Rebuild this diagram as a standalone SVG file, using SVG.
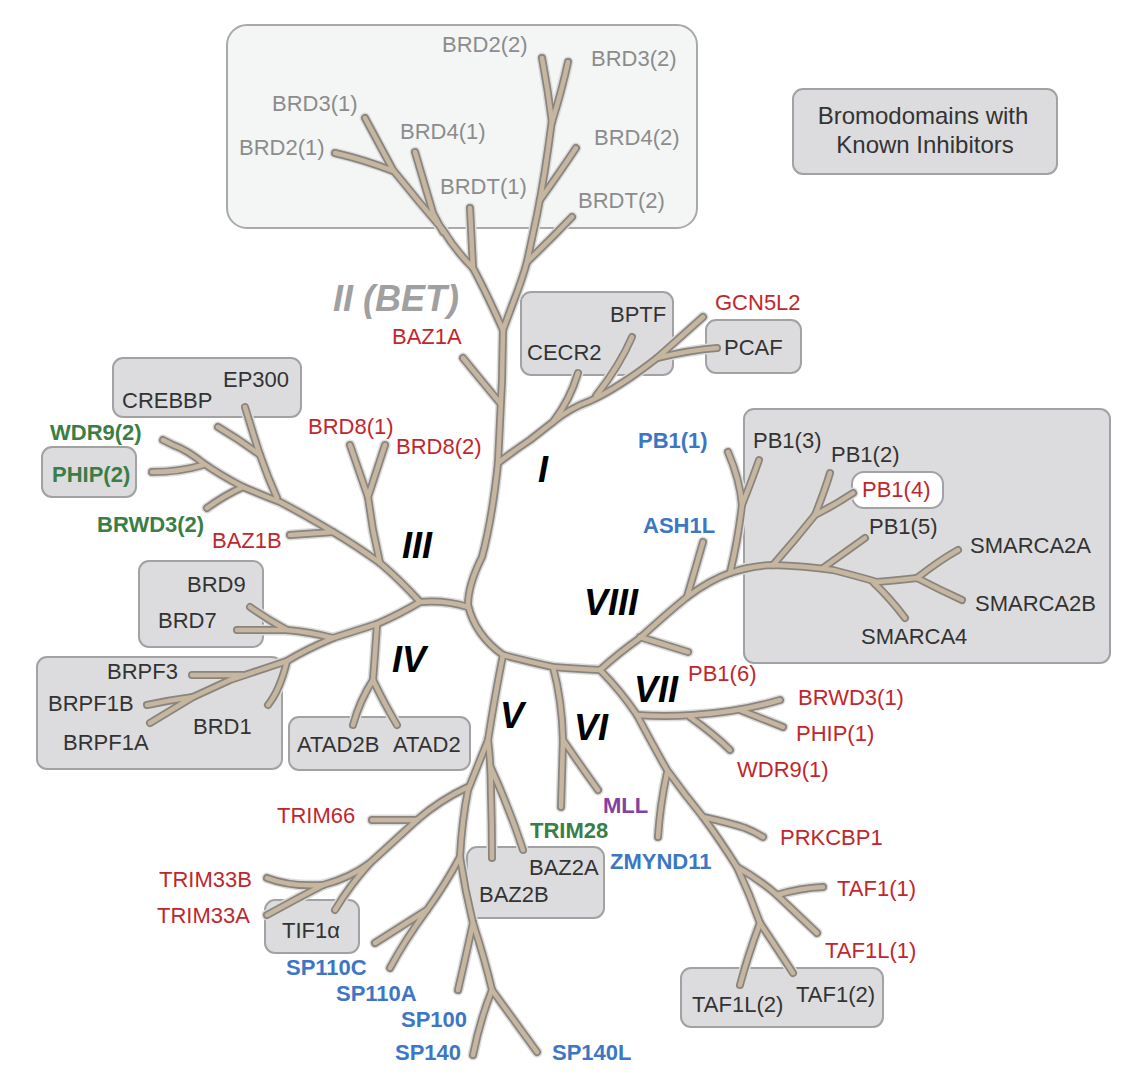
<svg xmlns="http://www.w3.org/2000/svg" width="1144" height="1090" viewBox="0 0 1144 1090">
<style>
text{font-family:"Liberation Sans",Arial,Helvetica,sans-serif;font-size:22px}
.box{fill:#dcdcde;stroke:#a2a2a4;stroke-width:2}
.bet{fill:#f4f6f6;stroke:#a9a9a9;stroke-width:2}
.g{fill:#8c8c8c}
.k{fill:#333}
.r{fill:#c0272d}
.gr{fill:#3b7d46;font-weight:bold}
.b{fill:#3d76c4;font-weight:bold}
.p{fill:#8341a0;font-weight:bold}
.rn{font-size:36px;font-weight:bold;font-style:italic;fill:#000}
.lg{font-size:24px;fill:#333}
</style>
<defs>
<g id="tree" fill="none" stroke-linecap="round" stroke-linejoin="round">
<!-- BET -->
<path d="M503,330 L513,303 Q522,280 527,262 L537,215 Q545,175 552,120"/>
<path d="M552,122 Q548,90 542,58"/>
<path d="M552,122 Q562,90 568,62"/>
<path d="M540,200 Q560,172 576,148"/>
<path d="M527,262 Q550,240 572,217"/>
<path d="M503,330 Q485,290 473,268 Q455,250 443,230 L420,203 L393,170 L365,118"/>
<path d="M335,153 Q365,160 393,171"/>
<path d="M415,152 L433,213 L443,232"/>
<path d="M470,208 L473,268"/>
<!-- trunk -->
<path d="M503,330 L502,380 L498,463 Q492,520 482,557 Q468,585 468,605 Q475,635 503,655"/>
<path d="M463,358 Q485,385 500,403"/>
<!-- I -->
<path d="M498,463 Q515,450 530,440 L553,422 Q570,408 590,401 Q620,387 657,358 L703,317"/>
<path d="M657,358 Q690,350 717,348"/>
<path d="M578,373 Q570,400 553,422"/>
<path d="M632,337 Q620,365 596,396"/>
<!-- III -->
<path d="M468,607 Q445,600 420,602 Q400,580 380,563 Q355,545 333,532 Q305,515 280,502 Q262,495 243,487 Q220,475 203,463 Q187,450 173,445 L163,440"/>
<path d="M152,472 Q180,472 203,465"/>
<path d="M207,508 Q225,495 243,487"/>
<path d="M245,407 Q255,440 260,455 Q268,478 277,498"/>
<path d="M218,427 Q240,440 260,455"/>
<path d="M290,535 L333,532"/>
<path d="M350,445 L368,497 L373,530 L380,563"/>
<path d="M385,445 L368,497"/>
<!-- IV -->
<path d="M420,602 Q400,614 377,624 L333,638 Q305,650 287,661 L230,680 L193,697 L150,723"/>
<path d="M250,607 Q268,620 287,630"/>
<path d="M237,630 L287,630 Q310,632 333,638"/>
<path d="M377,624 Q375,655 373,680"/>
<path d="M373,680 Q360,700 353,725"/>
<path d="M373,680 Q385,705 397,725"/>
<path d="M287,661 Q280,690 268,705"/>
<path d="M192,675 L243,675"/>
<path d="M147,705 Q170,700 193,697"/>
<!-- center -->
<path d="M503,655 Q530,662 553,667 Q580,669 600,670"/>
<!-- V -->
<path d="M503,655 Q495,695 488,740"/>
<path d="M488,740 Q478,765 468,790 Q462,820 460,857 Q465,890 473,923 Q485,960 492,990 L537,1052"/>
<path d="M492,990 Q480,1020 473,1055"/>
<path d="M468,787 Q440,800 417,820 Q395,840 370,863 Q350,878 323,885 Q300,897 267,915"/>
<path d="M372,820 L417,820"/>
<path d="M267,878 Q290,887 323,885"/>
<path d="M370,863 Q350,885 335,910"/>
<path d="M460,857 Q445,885 427,910 L375,943"/>
<path d="M427,910 Q405,940 390,968"/>
<path d="M473,923 Q465,960 458,990"/>
<path d="M488,740 Q491,765 491,793 Q492,825 492,858"/>
<path d="M491,768 Q510,810 523,850"/>
<!-- VI -->
<path d="M553,667 Q562,700 563,740 L561,807"/>
<path d="M563,740 Q580,765 598,790"/>
<!-- VIII -->
<path d="M600,670 Q620,652 640,638 Q665,615 687,597 Q710,580 730,573 Q750,566 773,565 Q805,566 833,570 Q860,577 877,582 Q900,580 917,578"/>
<path d="M917,578 Q940,560 958,550"/>
<path d="M917,578 Q940,590 962,600"/>
<path d="M873,582 Q890,598 905,618"/>
<path d="M823,568 L865,538"/>
<path d="M773,565 Q795,540 815,515 Q825,490 830,473"/>
<path d="M815,515 Q835,505 853,493"/>
<path d="M730,573 Q738,540 742,505 Q740,480 728,452"/>
<path d="M742,505 Q752,480 759,460"/>
<path d="M687,597 Q695,570 703,542"/>
<path d="M640,637 L688,652"/>
<!-- VII -->
<path d="M600,670 Q620,690 637,715 Q650,740 667,770 Q685,795 703,817 Q720,840 737,867 Q750,895 760,923"/>
<path d="M637,715 Q665,717 693,715 Q740,712 780,700"/>
<path d="M740,710 Q760,718 783,727"/>
<path d="M690,717 Q715,735 730,750"/>
<path d="M667,773 Q660,805 658,837"/>
<path d="M703,817 Q730,823 745,828 Q755,832 763,837"/>
<path d="M737,867 Q760,880 777,895 L817,933"/>
<path d="M777,895 Q800,888 823,887"/>
<path d="M760,923 Q748,955 740,985"/>
<path d="M760,923 Q778,950 793,973"/>
</g>
</defs>

<g id="boxes">
<rect id="box-bet" class="bet" x="227" y="25" width="470" height="203" rx="20"/>
<rect id="box-bptf" class="box" x="521" y="292" width="152" height="83" rx="10"/>
<rect id="box-pcaf" class="box" x="706" y="320" width="95" height="53" rx="10"/>
<rect id="box-crebbp" class="box" x="113" y="358" width="188" height="59" rx="10"/>
<rect id="box-phip2" class="box" x="42" y="447" width="94" height="50" rx="10"/>
<rect id="box-brd9" class="box" x="139" y="561" width="124" height="86" rx="10"/>
<rect id="box-brpf" class="box" x="37" y="657" width="245" height="112" rx="10"/>
<rect id="box-atad2" class="box" x="289" y="717" width="181" height="53" rx="10"/>
<rect id="box-viii" class="box" x="744" y="409" width="366" height="254" rx="10"/>
<rect id="box-pb14" x="852" y="472" width="91" height="36" rx="12" fill="#fff" stroke="#a2a2a4" stroke-width="2"/>
<rect id="box-taf" class="box" x="681" y="968" width="202" height="59" rx="10"/>
<rect id="box-baz2" class="box" x="467" y="847" width="137" height="71" rx="10"/>
<rect id="box-tif1a" class="box" x="265" y="900" width="94" height="53" rx="10"/>
</g>

<g id="connectors">
<use href="#tree" stroke="#dcdcdc" stroke-width="11"/>
<use href="#tree" stroke="#8a847f" stroke-width="8"/>
<use href="#tree" stroke="#c6b69f" stroke-width="4.5"/>
</g>

<g id="legend">
<rect class="box" x="793" y="89" width="264" height="85" rx="10"/>
<text class="lg" x="923" y="124" text-anchor="middle">Bromodomains with</text>
<text class="lg" x="925" y="153" text-anchor="middle">Known Inhibitors</text>
</g>

<g id="clades">
<text id="clade-I" class="rn" x="538" y="482">I</text>
<text id="clade-II" class="rn" x="333" y="311" style="fill:#a0a0a0;font-size:36px">II (BET)</text>
<text id="clade-III" class="rn" x="402" y="558">III</text>
<text id="clade-IV" class="rn" x="392" y="672">IV</text>
<text id="clade-V" class="rn" x="500" y="728">V</text>
<text id="clade-VI" class="rn" x="574" y="740">VI</text>
<text id="clade-VII" class="rn" x="634" y="702">VII</text>
<text id="clade-VIII" class="rn" x="584" y="615">VIII</text>
</g>

<g id="labels">
<g id="n-BRD2-2"><text class="g" x="442" y="52">BRD2(2)</text></g>
<g id="n-BRD3-2"><text class="g" x="591" y="66">BRD3(2)</text></g>
<g id="n-BRD3-1"><text class="g" x="272" y="111">BRD3(1)</text></g>
<g id="n-BRD4-1"><text class="g" x="400" y="139">BRD4(1)</text></g>
<g id="n-BRD2-1"><text class="g" x="239" y="155">BRD2(1)</text></g>
<g id="n-BRD4-2"><text class="g" x="594" y="145">BRD4(2)</text></g>
<g id="n-BRDT-1"><text class="g" x="440" y="194">BRDT(1)</text></g>
<g id="n-BRDT-2"><text class="g" x="578" y="208">BRDT(2)</text></g>

<g id="n-BPTF"><text class="k" x="610" y="322">BPTF</text></g>
<g id="n-CECR2"><text class="k" x="527" y="360">CECR2</text></g>
<g id="n-PCAF"><text class="k" x="724" y="355">PCAF</text></g>
<g id="n-EP300"><text class="k" x="223" y="387">EP300</text></g>
<g id="n-CREBBP"><text class="k" x="122" y="408">CREBBP</text></g>
<g id="n-BRD9"><text class="k" x="187" y="592">BRD9</text></g>
<g id="n-BRD7"><text class="k" x="158" y="628">BRD7</text></g>
<g id="n-BRPF3"><text class="k" x="107" y="679">BRPF3</text></g>
<g id="n-BRPF1B"><text class="k" x="48" y="711">BRPF1B</text></g>
<g id="n-BRD1"><text class="k" x="193" y="734">BRD1</text></g>
<g id="n-BRPF1A"><text class="k" x="63" y="750">BRPF1A</text></g>
<g id="n-ATAD2B"><text class="k" x="297" y="752">ATAD2B</text></g>
<g id="n-ATAD2"><text class="k" x="393" y="752">ATAD2</text></g>
<g id="n-PB1-3"><text class="k" x="753" y="448">PB1(3)</text></g>
<g id="n-PB1-2"><text class="k" x="831" y="462">PB1(2)</text></g>
<g id="n-PB1-5"><text class="k" x="869" y="534">PB1(5)</text></g>
<g id="n-SMARCA2A"><text class="k" x="970" y="553">SMARCA2A</text></g>
<g id="n-SMARCA2B"><text class="k" x="975" y="611">SMARCA2B</text></g>
<g id="n-SMARCA4"><text class="k" x="861" y="644">SMARCA4</text></g>
<g id="n-TAF1L-2"><text class="k" x="692" y="1012">TAF1L(2)</text></g>
<g id="n-TAF1-2"><text class="k" x="796" y="1002">TAF1(2)</text></g>
<g id="n-BAZ2A"><text class="k" x="529" y="875">BAZ2A</text></g>
<g id="n-BAZ2B"><text class="k" x="479" y="902">BAZ2B</text></g>
<g id="n-TIF1a"><text class="k" x="282" y="938">TIF1α</text></g>

<g id="n-GCN5L2"><text class="r" x="715" y="310">GCN5L2</text></g>
<g id="n-BAZ1A"><text class="r" x="392" y="344">BAZ1A</text></g>
<g id="n-BRD8-1"><text class="r" x="308" y="434">BRD8(1)</text></g>
<g id="n-BRD8-2"><text class="r" x="396" y="454">BRD8(2)</text></g>
<g id="n-BAZ1B"><text class="r" x="212" y="548">BAZ1B</text></g>
<g id="n-PB1-4"><text class="r" x="862" y="497">PB1(4)</text></g>
<g id="n-PB1-6"><text class="r" x="688" y="681">PB1(6)</text></g>
<g id="n-BRWD3-1"><text class="r" x="798" y="705">BRWD3(1)</text></g>
<g id="n-PHIP-1"><text class="r" x="796" y="741">PHIP(1)</text></g>
<g id="n-WDR9-1"><text class="r" x="737" y="777">WDR9(1)</text></g>
<g id="n-PRKCBP1"><text class="r" x="780" y="845">PRKCBP1</text></g>
<g id="n-TAF1-1"><text class="r" x="837" y="896">TAF1(1)</text></g>
<g id="n-TAF1L-1"><text class="r" x="825" y="958">TAF1L(1)</text></g>
<g id="n-TRIM66"><text class="r" x="277" y="823">TRIM66</text></g>
<g id="n-TRIM33B"><text class="r" x="159" y="887">TRIM33B</text></g>
<g id="n-TRIM33A"><text class="r" x="157" y="923">TRIM33A</text></g>

<g id="n-WDR9-2"><text class="gr" x="50" y="440">WDR9(2)</text></g>
<g id="n-PHIP-2"><text class="gr" x="52" y="482">PHIP(2)</text></g>
<g id="n-BRWD3-2"><text class="gr" x="97" y="532">BRWD3(2)</text></g>
<g id="n-TRIM28"><text class="gr" x="530" y="838">TRIM28</text></g>

<g id="n-PB1-1"><text class="b" x="638" y="448">PB1(1)</text></g>
<g id="n-ASH1L"><text class="b" x="643" y="533">ASH1L</text></g>
<g id="n-ZMYND11"><text class="b" x="610" y="869">ZMYND11</text></g>
<g id="n-SP110C"><text class="b" x="286" y="975">SP110C</text></g>
<g id="n-SP110A"><text class="b" x="336" y="1001">SP110A</text></g>
<g id="n-SP100"><text class="b" x="401" y="1027">SP100</text></g>
<g id="n-SP140"><text class="b" x="395" y="1060">SP140</text></g>
<g id="n-SP140L"><text class="b" x="552" y="1060">SP140L</text></g>

<g id="n-MLL"><text class="p" x="603" y="813">MLL</text></g>
</g>
</svg>
